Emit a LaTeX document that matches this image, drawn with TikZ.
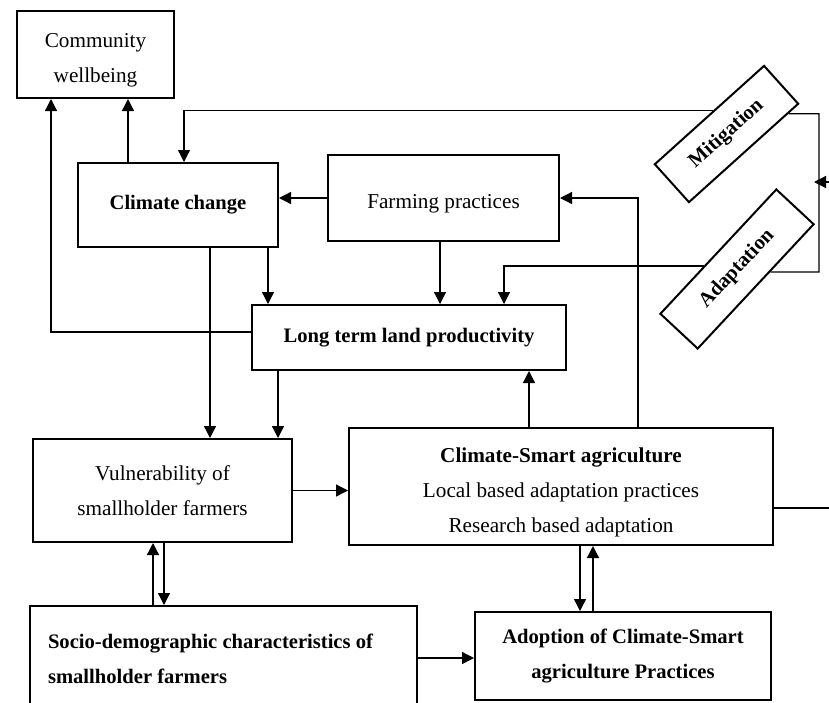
\documentclass[tikz,border=0pt]{standalone}
\usepackage{fontspec}
\setmainfont{Liberation Serif}
\usepackage{tikz}
\usetikzlibrary{arrows.meta,calc}

\tikzset{
  box/.style={draw,line width=1pt,align=center,inner sep=0pt,
    font=\fontsize{10.6}{17.5}\selectfont},
  bbox/.style={box,font=\fontsize{10.3}{17.5}\selectfont\bfseries},
}
\newcommand{\lowstrut}{\rule{0pt}{13pt}}

\begin{document}
\begin{tikzpicture}[x=0.5pt,y=-0.5pt,>={Triangle[length=6pt,width=6pt]},line width=0.65pt]
  \useasboundingbox (0,0) rectangle (829,702);
  % boxes
  \node[box, minimum width=78.5pt, minimum height=43.5pt] (comm) at (95.5,54.5) {\lowstrut Community\\wellbeing};
  \node[bbox,minimum width=100pt,  minimum height=42pt]   (clim) at (178,205) {Climate change};
  \node[box, minimum width=115.5pt,minimum height=43pt]   (farm) at (443.5,198) {\lowstrut Farming practices};
  \node[bbox,minimum width=157pt,  minimum height=32.5pt] (land) at (409,337.5) {Long term land productivity};
  \node[box, minimum width=129.5pt,minimum height=51.5pt] (vuln) at (162.5,490.5) {Vulnerability of\\smallholder farmers};
  \node[box, minimum width=212pt,  minimum height=58.5pt] (csa)  at (561,486.5)
    {\lowstrut\textbf{Climate-Smart agriculture}\\Local based adaptation practices\\Research based adaptation};
  \node[bbox,align=flush left,inner xsep=9pt,text width=175.5pt,minimum height=52.5pt] (socio) at (223.5,658.5)
    {Socio-demographic characteristics of\\smallholder farmers};
  \node[bbox,minimum width=148pt,  minimum height=44pt]   (adopt) at (623,656) {Adoption of Climate-Smart\\agriculture Practices};
  \node[bbox,rotate=42,minimum width=73.5pt,minimum height=25.5pt] (mitig) at (726.5,134) {Mitigation};
  \node[bbox,rotate=47,minimum width=85pt,  minimum height=25.5pt] (adapt) at (737,269) {Adaptation};
  % connectors
  \draw[->] (clim.north -| 128,0) -- (comm.south -| 128,0);
  \draw[->] (land.west |- 0,332) -| (comm.south -| 51,0);
  \draw[->] ($(mitig.north west)!0.54!(mitig.north east)$) -| (clim.north -| 184,0);
  \draw[->] (farm.west) -- (farm.west -| clim.east);
  \draw[->] (clim.south -| 268,0) -- (land.north -| 268,0);
  \draw[->] (clim.south -| 210,0) -- (vuln.north -| 210,0);
  \draw[->] (land.south -| 278,0) -- (vuln.north -| 278,0);
  \draw[->] (farm.south -| 440,0) -- (land.north -| 440,0);
  \draw[->] ($(adapt.north west)!0.38!(adapt.north east)$) -| (land.north -| 504,0);
  \draw ($(mitig.south west)!0.9!(mitig.south east)$) -| (819,272) -- ($(adapt.south west)!0.62!(adapt.south east)$);
  \draw[->] (csa.east |- 0,508) -- (850,508) |- (814,182);
  \draw[->] (csa.north -| 529,0) -- (land.south -| 529,0);
  \draw[->] (csa.north -| 638,0) |- (farm.east);
  \draw[->] (vuln.east) -- (vuln.east -| csa.west);
  \draw[->] (socio.north -| 153,0) -- (vuln.south -| 153,0);
  \draw[->] (vuln.south -| 164,0) -- (socio.north -| 164,0);
  \draw[->] (csa.south -| 580,0) -- (adopt.north -| 580,0);
  \draw[->] (adopt.north -| 593,0) -- (csa.south -| 593,0);
  \draw[->] (socio.east |- 0,658) -- (adopt.west |- 0,658);
\end{tikzpicture}
\end{document}
